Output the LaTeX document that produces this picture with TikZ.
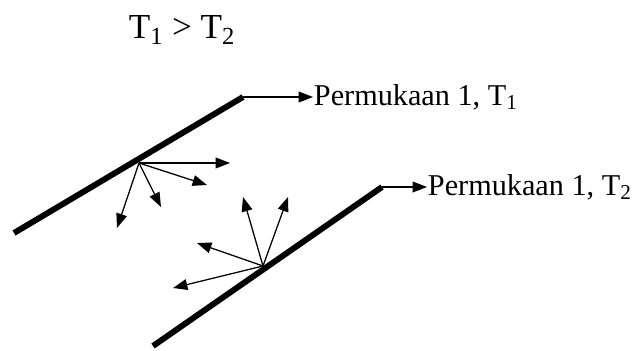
\documentclass[tikz,border=0pt]{standalone}
\usepackage{fontspec}
\setmainfont{Liberation Serif}
\usetikzlibrary{arrows.meta}

\begin{document}
\begin{tikzpicture}[
  x=0.025cm, y=-0.025cm,
  >={Triangle[length=0.36cm, width=0.27cm]},
  surface/.style={line width=4.2pt},
  ray/.style={->, line width=0.9pt},
  pointer/.style={->, line width=0.9pt},
  label/.style={anchor=west, inner sep=0.5pt, font=\fontsize{21.5}{25}\selectfont}
]
  \useasboundingbox (0,0) rectangle (637,350);

  \node[font=\fontsize{25}{30}\selectfont] (title) at (182,30) {T\textsubscript{1} > T\textsubscript{2}};

  % surfaces
  \coordinate (s1a) at (14,233);
  \coordinate (s1b) at (243,97);
  \coordinate (s2a) at (153,346);
  \coordinate (s2b) at (382,187);
  \draw[surface] (s1a) -- (s1b);
  \draw[surface] (s2a) -- (s2b);

  % labels
  \node[label] (lab1) at (313,97) {Permukaan 1, T\textsubscript{1}};
  \node[label] (lab2) at (427,187) {Permukaan 1, T\textsubscript{2}};
  \draw[pointer] (s1b) -- (lab1.west);
  \draw[pointer] (s2b) -- (lab2.west);

  % emitted rays
  \coordinate (e1) at (139,163);
  \coordinate (e2) at (263,266);
  \foreach \x/\y [count=\i] in {230/163, 207/185, 161/207, 117/228} {
    \coordinate (r1\i) at (\x,\y);
    \draw[ray] (e1) -- (r1\i);
  }
  \foreach \x/\y [count=\i] in {243/197, 288/197, 197/243, 173/288} {
    \coordinate (r2\i) at (\x,\y);
    \draw[ray] (e2) -- (r2\i);
  }
\end{tikzpicture}
\end{document}
